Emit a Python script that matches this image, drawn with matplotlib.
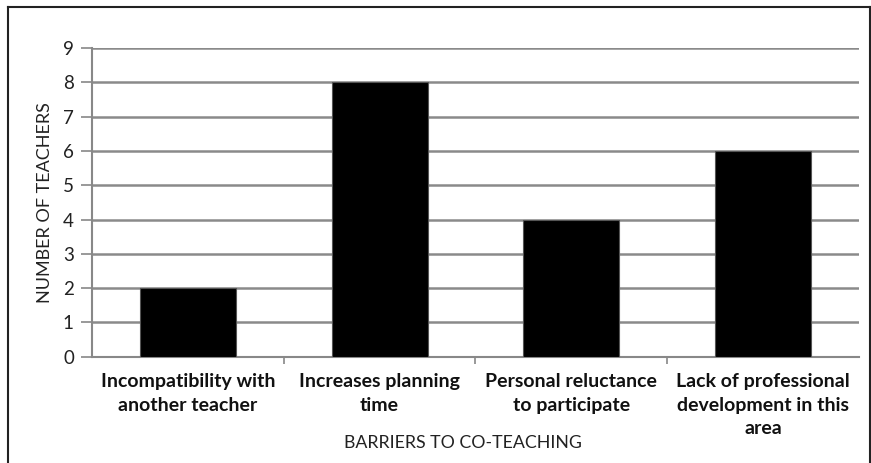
import matplotlib.pyplot as plt
from matplotlib.lines import Line2D

categories = [
    "Incompatibility with\nanother teacher",
    "Increases planning\ntime",
    "Personal reluctance\nto participate",
    "Lack of professional\ndevelopment in this\narea",
]
teachers = [2, 8, 4, 6]
y_ticks = list(range(0, 10))

plt.rcParams['font.family'] = ['Lato', 'DejaVu Sans']

fig = plt.figure(figsize=(8.71, 4.63), dpi=100)
ax = fig.add_axes([0.1056, 0.2296, 0.8806, 0.6667])

x = range(len(categories))
ax.bar(x, teachers, width=0.5, color='black', edgecolor='#555555', linewidth=0.8, zorder=3)

ax.set_xlim(-0.5, len(categories) - 0.5)
ax.set_ylim(0, 9)
ax.set_yticks(y_ticks)
ax.set_yticklabels([str(v) for v in y_ticks], fontsize=13.5, color='#222222')
ax.yaxis.grid(True, color='#8a8a8a', linewidth=1.8, zorder=0)

ax.set_xticks(list(x))
ax.set_xticklabels(categories, fontsize=14, fontweight='bold', color='#111111', linespacing=1.45)
ax.tick_params(axis='x', length=0, pad=12)
ax.set_xticks([i + 0.5 for i in range(len(categories) - 1)], minor=True)
ax.tick_params(axis='x', which='minor', length=5, color='#888888', width=1.2)
ax.tick_params(axis='y', length=8, color='#888888', width=1.2, pad=5)

for side in ['top', 'right']:
    ax.spines[side].set_visible(False)
for side in ['left', 'bottom']:
    ax.spines[side].set_color('#888888')
    ax.spines[side].set_linewidth(1.5)

ax.set_ylabel("NUMBER OF TEACHERS", fontsize=13, color='#222222', labelpad=7)
fig.text(0.531, 0.043, "BARRIERS TO CO-TEACHING", fontsize=12.8, color='#222222',
         ha='center', va='center')

# outer frame
fig.add_artist(Line2D([0.0095, 0.0095], [0.0, 0.985], color='#222222', linewidth=1.5))
fig.add_artist(Line2D([0.0095, 0.9985], [0.985, 0.985], color='#222222', linewidth=1.5))
fig.add_artist(Line2D([0.9985, 0.9985], [0.0, 0.985], color='#222222', linewidth=1.5))

fig.savefig("out.png", dpi=100)
